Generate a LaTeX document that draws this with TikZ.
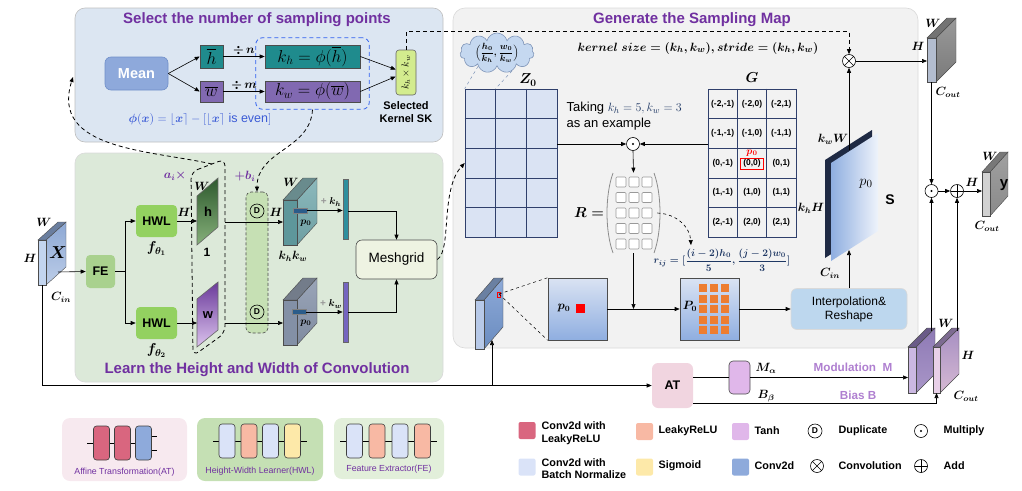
\documentclass[tikz,border=0pt]{standalone}
\usepackage{amsmath}
\usepackage{fontspec}
\setmainfont{Liberation Sans}
\usepackage{graphicx}
\usepackage{tikz}
\usetikzlibrary{arrows.meta}
\usetikzlibrary{positioning}
\usetikzlibrary{calc}
\usetikzlibrary{fit}
\usetikzlibrary{shapes.symbols}

\definecolor{ttl}{HTML}{7030A0}
\definecolor{pnlA}{HTML}{DCE6F2}
\definecolor{pnlB}{HTML}{DCE9D9}
\definecolor{pnlC}{HTML}{F2F2F2}
\definecolor{meanc}{HTML}{8EA9DB}
\definecolor{meand}{HTML}{6F8FC9}
\definecolor{tealc}{HTML}{1F8B8D}
\definecolor{purc}{HTML}{8169B1}
\definecolor{skc}{HTML}{D3EC8E}
\definecolor{phic}{HTML}{3B5BD6}
\definecolor{kbl}{HTML}{2F5FF0}
\definecolor{fec}{HTML}{A9D18E}
\definecolor{hwlc}{HTML}{93D160}
\definecolor{dcol}{HTML}{C6E0B4}
\definecolor{meshc}{HTML}{EEF3E2}
\definecolor{hdark}{HTML}{2E5A2E}
\definecolor{hlight}{HTML}{86B07A}
\definecolor{wdark}{HTML}{6A3A9A}
\definecolor{wlight}{HTML}{DCC3EE}
\definecolor{tbar1}{HTML}{2F8F9E}
\definecolor{tbar2}{HTML}{7565C0}
\definecolor{pbar}{HTML}{2B5C8A}
\definecolor{cldc}{HTML}{C5D8F0}
\definecolor{cldl}{HTML}{7F95B8}
\definecolor{gridf}{HTML}{DAE3F3}
\definecolor{gridc}{HTML}{2F3F6B}
\definecolor{orng}{HTML}{ED7D31}
\definecolor{itpc}{HTML}{BDD7EE}
\definecolor{atc}{HTML}{F1D5E0}
\definecolor{lav}{HTML}{E0B7EA}
\definecolor{cred}{HTML}{D9667F}
\definecolor{bnblue}{HTML}{DAE3F8}
\definecolor{salmon}{HTML}{F8B9A4}
\definecolor{yel}{HTML}{FDE9A9}
\definecolor{cblue}{HTML}{8EAADB}
\definecolor{legAT}{HTML}{F7E9EF}
\definecolor{legHWL}{HTML}{C5E0B4}
\definecolor{legFE}{HTML}{E2EFDA}
\definecolor{modc}{HTML}{AF7FD0}
\definecolor{sdark}{HTML}{1F2A44}
\definecolor{sblue}{HTML}{8FAEE0}
\definecolor{sblight}{HTML}{EEF3FB}
\definecolor{navy}{HTML}{1F3864}
\definecolor{xsA}{HTML}{8DA8D4}
\definecolor{xsB}{HTML}{BCCDE8}
\definecolor{xfr}{HTML}{C3D5EF}
\definecolor{tcA}{HTML}{8CB9BC}
\definecolor{tcB}{HTML}{6E9FA3}
\definecolor{tcF}{HTML}{5E979B}
\definecolor{bcA}{HTML}{9AA5B8}
\definecolor{bcB}{HTML}{7F8BA0}
\definecolor{bcF}{HTML}{8390A6}
\definecolor{ssA}{HTML}{8EAAD8}
\definecolor{ssB}{HTML}{6A8CC0}
\definecolor{ssF}{HTML}{B7C9E8}
\definecolor{gcA}{HTML}{9A9A9A}
\definecolor{gcB}{HTML}{7A7A7A}
\definecolor{gcF}{HTML}{B3BDCF}
\definecolor{ycA}{HTML}{A0A0A0}
\definecolor{ycB}{HTML}{8A8A8A}
\definecolor{ycF}{HTML}{D2D2D2}
\definecolor{p1A}{HTML}{8E7AB5}
\definecolor{p1B}{HTML}{A996C8}
\definecolor{p1F}{HTML}{CBB8E2}
\definecolor{p2A}{HTML}{A68FC2}
\definecolor{p2B}{HTML}{D6B9D3}
\definecolor{p2F}{HTML}{E8D0E8}

% front corner, width, height, depth x, depth y, side top, side bottom, front
\newcommand\tensorslab[8]{%
  \begin{scope}[shift={#1}]
    \shadedraw[draw=black!70,line width=.4pt,top color=#6,bottom color=#7] (#2,0) -- ++(#4,#5) -- ++(0,#3) -- (#2,#3) -- cycle;
    \filldraw[draw=black!70,line width=.4pt,fill=#6!75!black] (0,0) -- (#4,#5) -- ++(#2,0) -- (#2,0) -- cycle;
    \filldraw[draw=black!70,line width=.4pt,fill=#8] (0,0) rectangle (#2,#3);
  \end{scope}}

\tikzset{
  arr/.style={-{Triangle[length=5pt,width=4pt]}},
  dsh/.style={dash pattern=on 4pt off 3pt,line width=.8pt},
  box/.style={draw=black!70,rounded corners=4pt,inner sep=0pt},
  lbl/.style={font=\fontsize{12}{14}\selectfont\boldmath},
  ttlfont/.style={text=ttl,font=\bfseries\fontsize{15}{17}\selectfont},
  op/.style={circle,draw,fill=white,inner sep=0pt,minimum size=13pt},
  mult/.style={op,path picture={\fill[black] (path picture bounding box.center) circle (1.2pt);}},
  conv/.style={op,path picture={\draw (path picture bounding box.north west) -- (path picture bounding box.south east) (path picture bounding box.north east) -- (path picture bounding box.south west);}},
  addop/.style={op,path picture={\draw (path picture bounding box.north) -- (path picture bounding box.south) (path picture bounding box.west) -- (path picture bounding box.east);}},
  dup/.style={circle,draw,inner sep=0pt,minimum size=14pt,font=\bfseries\fontsize{8.5}{9}\selectfont},
  blk/.style={draw=black!75,rounded corners=3pt,minimum width=16pt,minimum height=34pt,inner sep=0pt},
  sw/.style={rounded corners=2pt,minimum size=17pt,inner sep=0pt},
  legt/.style={anchor=west,align=left,font=\bfseries\fontsize{10.8}{12.5}\selectfont},
  wsq/.style={draw=black!40,fill=white,rounded corners=1pt,minimum size=10pt,inner sep=0pt},
}

\begin{document}
\begin{tikzpicture}[x=1pt,y=-1pt,line width=.6pt]
\useasboundingbox (0,0) rectangle (1022,490);

\draw[draw=black!25,fill=pnlA,rounded corners=10pt] (75,8) rectangle (443,142);
\draw[draw=black!15,fill=pnlB,rounded corners=10pt] (75,153) rectangle (443,382);
\draw[draw=black!15,fill=pnlC,rounded corners=12pt] (453,8) rectangle (918,348);
\node[ttlfont] (tA) at (257,20) {Select the number of sampling points};
\node[ttlfont] (tB) at (257,370) {Learn the Height and Width of Convolution};
\node[ttlfont] (tC) at (692,20) {Generate the Sampling Map};
\coordinate (pa) at (73,77);

% select the number of sampling points
\node[box,fill=meanc,draw=meand,text=white,minimum width=63pt,minimum height=33pt,rounded corners=6pt,font=\bfseries\fontsize{14.5}{16}\selectfont] (mean) at (136.5,73.5) {Mean};
\node[box,rounded corners=0pt,fill=tealc,minimum width=23pt,minimum height=23pt,font=\fontsize{17}{19}\selectfont] (hbar) at (211.5,56.5) {$\overline{h}$};
\node[box,rounded corners=0pt,fill=purc,minimum width=23pt,minimum height=21pt,font=\fontsize{17}{19}\selectfont] (wbar) at (211.5,91.5) {$\overline{w}$};
\node[box,rounded corners=0pt,fill=tealc,minimum width=95pt,minimum height=23pt,font=\fontsize{17}{19}\selectfont] (kh) at (312.5,56.5) {$k_h=\phi(\overline{h})$};
\node[box,rounded corners=0pt,fill=purc,minimum width=95pt,minimum height=21pt,font=\fontsize{17}{19}\selectfont] (kw) at (312.5,91.5) {$k_w=\phi(\overline{w})$};
\node[draw=kbl,dsh,rounded corners=7pt,fit=(kh)(kw),inner xsep=9pt,inner ysep=7pt] (kfit) {};
\node[box,fill=skc,draw=black!60,minimum width=20pt,minimum height=45pt,rounded corners=3pt,font=\fontsize{10}{11}\selectfont] (sk) at (406,72.5) {\rotatebox{90}{$k_h\times k_w$}};
\node[below=3pt of sk,align=center,font=\bfseries\fontsize{11}{12.5}\selectfont] (skl) {Selected\\Kernel SK};
\node[text=phic,font=\fontsize{12.5}{14}\selectfont] (phi) at (200,119) {$\boldsymbol{\phi}(\boldsymbol{x})=\lfloor\boldsymbol{x}\rceil-[\lfloor\boldsymbol{x}\rceil\ \mathrm{is\ even}]$};

% learn the height and width
\tensorslab{(38,240)}{8}{45}{20}{-18}{xsA}{xsB}{xfr}
\node[font=\fontsize{18}{20}\selectfont\boldmath] (xl) at (58,253) {$X$};
\node[lbl] (xW) at (44,222) {$W$};
\node[lbl] (xH) at (30,258) {$H$};
\node[lbl] (xC) at (61,297) {$C_{in}$};
\coordinate (xo) at (58,272);
\coordinate (xb) at (42,285);
\node[box,fill=fec,draw=none,minimum width=29pt,minimum height=33pt,font=\bfseries\fontsize{12.5}{14}\selectfont] (fe) at (100.5,271.5) {FE};
\coordinate (sp) at (125,271.5);
\node[box,fill=hwlc,draw=none,minimum width=41pt,minimum height=32pt,font=\bfseries\fontsize{12.5}{14}\selectfont] (hwl1) at (156.5,221) {HWL};
\node[box,fill=hwlc,draw=none,minimum width=41pt,minimum height=32pt,font=\bfseries\fontsize{12.5}{14}\selectfont] (hwl2) at (156.5,323) {HWL};
\node[below=1pt of hwl1,font=\fontsize{14}{16}\selectfont\boldmath] (f1) {$f_{\theta_1}$};
\node[below=1pt of hwl2,font=\fontsize{14}{16}\selectfont\boldmath] (f2) {$f_{\theta_2}$};
\node[lbl] (hH) at (184,212) {$H$};

\shadedraw[draw=black!60,top color=hdark,bottom color=hlight] (197,196) -- (218,178) -- (218,227) -- (197,245) -- cycle;
\shadedraw[draw=black!60,top color=wdark,bottom color=wlight] (197,299) -- (218,282) -- (218,330) -- (197,347) -- cycle;
\node[font=\bfseries\fontsize{13}{14}\selectfont] (ht) at (208,212) {h};
\node[font=\bfseries\fontsize{13}{14}\selectfont] (wt) at (208,315) {w};
\node[lbl] (hW) at (202,186) {$W$};
\node[font=\bfseries\fontsize{12}{14}\selectfont] (h1) at (207,252) {1};
\draw[dsh,rounded corners=7pt] (191,172) -- (225,159) -- (225,333) -- (193,356) -- cycle;
\coordinate (gtop) at (212,164);
\coordinate (g1) at (225,222);
\coordinate (g2) at (225,323);
\node[lbl,text=ttl] (ai) at (175,176) {$a_i\times$};
\node[lbl,text=ttl] (bi) at (245,176) {$+b_i$};

\node[draw=black!70,dash pattern=on 3pt off 2pt,fill=dcol,rounded corners=5pt,minimum width=22pt,minimum height=141pt] (dcl) at (257,262.5) {};
\node[dup] (d1) at (257,211) {D};
\node[dup] (d2) at (257,312) {D};

\tensorslab{(283,200)}{14}{45}{20}{-22}{tcA}{tcB}{tcF}
\tensorslab{(283,300)}{14}{45}{20}{-22}{bcA}{bcB}{bcF}
\coordinate (c1) at (283,222);
\coordinate (c2) at (283,323);
\node[lbl] (cW) at (291,182) {$W$};
\node[lbl] (cH) at (276,212) {$H$};
\node[lbl] (ckk) at (293,256) {$k_hk_w$};
\node[draw=black!50,fill=pbar,minimum width=14pt,minimum height=5pt,inner sep=0pt] (pb1) at (300,210.5) {};
\node[draw=black!50,fill=pbar,minimum width=14pt,minimum height=5pt,inner sep=0pt] (pb2) at (299,312) {};
\node[font=\fontsize{10}{11}\selectfont\boldmath] (pl1) at (306,223) {$p_0$};
\node[font=\fontsize{10}{11}\selectfont\boldmath] (pl2) at (306,323) {$p_0$};
\node[draw=black!60,fill=tbar1,minimum width=5pt,minimum height=60pt,inner sep=0pt] (tb1) at (345.5,209) {};
\node[draw=black!60,fill=tbar2,minimum width=5pt,minimum height=60pt,inner sep=0pt] (tb2) at (345.5,312) {};
\node[font=\fontsize{10}{11}\selectfont\boldmath] (pk1) at (331,202) {{\color{black!40}\textbf{+}} $k_h$};
\node[font=\fontsize{10}{11}\selectfont\boldmath] (pk2) at (331,304) {{\color{black!40}\textbf{+}} $k_w$};
\node[box,fill=meshc,draw=black!70,rounded corners=6pt,minimum width=81pt,minimum height=39pt,font=\fontsize{13.5}{15}\selectfont] (mesh) at (396.5,259.5) {Meshgrid};

% generate the sampling map
\node[font=\fontsize{12.5}{14}\selectfont\boldmath] (ks) at (698,48) {$kernel\ size=(k_h,k_w),stride=(k_h,k_w)$};
\node[cloud,cloud puffs=11,aspect=2.2,draw=cldl,fill=cldc,inner sep=-3pt,minimum width=74pt,minimum height=40pt,font=\fontsize{9}{10}\selectfont\boldmath] (cld) at (497,53) {$\Bigl(\dfrac{h_0}{k_h},\dfrac{w_0}{k_w}\Bigr)$};
\node[draw=gridc,fill=gridf,minimum width=92pt,minimum height=148pt,inner sep=0pt] (z0) at (511,163) {};
\foreach \i in {1,2}
  \draw[gridc] ($(z0.north west)!\i/3!(z0.north east)$) -- ($(z0.south west)!\i/3!(z0.south east)$);
\foreach \j in {1,...,4}
  \draw[gridc] ($(z0.north west)!\j/5!(z0.south west)$) -- ($(z0.north east)!\j/5!(z0.south east)$);
\draw[cldl,dashed,line width=.5pt] (cld.215) -- (z0.north west);
\draw[cldl,dashed,line width=.5pt] (cld.310) -- ($(z0.north west)!1/3!(z0.north east)$);
\node[font=\fontsize{14}{16}\selectfont\boldmath] (z0l) at (528,80) {$Z_0$};
\node[anchor=west,align=left,font=\fontsize{13}{15.5}\selectfont] (take) at (563,116) {Taking \textcolor{navy}{$k_h=5,k_w=3$}\\as an example};

\node[draw=gridc,minimum width=88pt,minimum height=148pt,inner sep=0pt] (g) at (752,163) {};
\foreach \i in {1,2}
  \draw[gridc] ($(g.north west)!\i/3!(g.north east)$) -- ($(g.south west)!\i/3!(g.south east)$);
\foreach \j in {1,...,4}
  \draw[gridc] ($(g.north west)!\j/5!(g.south west)$) -- ($(g.north east)!\j/5!(g.south east)$);
\node[draw=red,minimum width=23pt,minimum height=11pt,inner sep=0pt] (gred) at (752,164) {};
\foreach \r in {-2,...,2}
  \foreach \c in {-1,0,1}
    \node[font=\bfseries\fontsize{8.5}{9}\selectfont] (gl\r\c) at ($(g.center)+(\c*29.33,\r*29.6)$) {(\r,\c)};
\node[text=red,font=\fontsize{10}{11}\selectfont\boldmath] (gp0) at (752,153) {$p_0$};
\node[font=\fontsize{14}{16}\selectfont\boldmath] (gl) at (752,78) {$G$};
\node[mult] (mul) at (633,144) {};

\node[minimum width=47pt,minimum height=80pt,inner sep=0pt] (rm) at (633.5,213) {};
\draw[black!45,line width=.8pt] (613,173) .. controls (605,195) and (605,231) .. (613,253);
\draw[black!45,line width=.8pt] (654,173) .. controls (662,195) and (662,231) .. (654,253);
\foreach \i in {0,1,2}
  \foreach \j in {0,...,4}
    \node[wsq] (r\i\j) at (621+\i*13,182+\j*15.5) {};
\node[font=\fontsize{15}{17}\selectfont\boldmath] (rl) at (589,213) {$R=$};
\node[text=navy,font=\fontsize{10}{11}\selectfont\boldmath] (rij) at (722,260) {$r_{ij}=[\dfrac{(i-2)h_0}{5},\dfrac{(j-2)w_0}{3}]$};

\tensorslab{(475,300)}{9}{49}{19}{-22}{ssA}{ssB}{ssF}
\draw[red,line width=.7pt] (497,292) rectangle (500,297);
\coordinate (rdot) at (499,294);
\coordinate (slb) at (492,340);
\node[draw=black!70,top color=gridf,bottom color=sblue,minimum width=59pt,minimum height=62pt,inner sep=0pt] (p0b) at (577.5,309) {};
\node[font=\fontsize{12}{14}\selectfont\boldmath] (p0l) at (564,308) {$p_0$};
\node[fill=red,minimum size=9pt,inner sep=0pt] (p0r) at (580,308) {};
\node[draw=black!70,top color=gridf,bottom color=sblue,minimum width=59pt,minimum height=62pt,inner sep=0pt] (P0b) at (709.5,309) {};
\node[font=\fontsize{12}{14}\selectfont\boldmath] (P0l) at (690,306) {$P_0$};
\foreach \i in {0,1,2}
  \foreach \j in {0,...,4}
    \fill[orng] (699+\i*11,284+\j*10.5) rectangle ++(8,8);
\node[box,fill=itpc,draw=black!15,rounded corners=6pt,minimum width=116pt,minimum height=41pt,align=center,font=\fontsize{12}{14}\selectfont] (itp) at (849,309) {Interpolation\&\\Reshape};

\fill[sdark] (825,160) -- (872,130) -- (872,228) -- (825,258) -- cycle;
\shade[left color=sblue,right color=sblight] (831,163) -- (878,133) -- (878,231) -- (831,261) -- cycle;
\coordinate (stop) at (849,150);
\coordinate (sbot) at (849,250);
\node[font=\bfseries\fontsize{14}{16}\selectfont] (sl) at (890,200) {S};
\node[font=\fontsize{15}{16}\selectfont] (sp0) at (866,184) {$p_0$};
\node[lbl] (skw) at (833,139) {$k_wW$};
\node[lbl] (skh) at (811,208) {$k_hH$};
\node[lbl] (scin) at (830,273) {$C_{in}$};
\node[conv] (cnv) at (849,61) {};

% outputs
\tensorslab{(927,38)}{9}{44}{20}{-20}{gcA}{gcB}{gcF}
\coordinate (oc1) at (927,61);
\coordinate (oc1b) at (931.5,82);
\node[lbl] (oW) at (933,23) {$W$};
\node[lbl] (oH) at (918,46) {$H$};
\node[lbl] (oC) at (948,92) {$C_{out}$};
\node[mult] (mo) at (931.5,191) {};
\node[addop] (ad) at (957,191) {};
\tensorslab{(982,172)}{8}{44}{18}{-20}{ycA}{ycB}{ycF}
\coordinate (yin) at (982,191);
\node[font=\bfseries\fontsize{15}{16}\selectfont] (yl) at (1004,185) {y};
\node[lbl] (yW) at (990,156) {$W$};
\node[lbl] (yH) at (972,182) {$H$};
\node[lbl] (yC) at (987,226) {$C_{out}$};
\tensorslab{(908,347)}{8}{46}{19}{-19}{p1A}{p1B}{p1F}
\tensorslab{(933,347)}{7}{46}{19}{-19}{p2A}{p2B}{p2F}
\coordinate (ps1t) at (931.5,331);
\coordinate (ps2t) at (957,331);
\coordinate (m1) at (908,377.5);
\coordinate (b2) at (936.5,393);
\node[lbl] (pW) at (946,323) {$W$};
\node[lbl] (pH) at (968,355) {$H$};
\node[lbl] (pC) at (966,396) {$C_{out}$};

\node[box,fill=atc,draw=none,rounded corners=6pt,minimum width=41pt,minimum height=45pt,font=\bfseries\fontsize{12.5}{14}\selectfont] (atn) at (672.5,385.5) {AT};
\node[box,fill=lav,draw=black!70,minimum width=21pt,minimum height=33pt] (ma) at (739.5,377.5) {};
\node[lbl] (mal) at (766,368) {$M_\alpha$};
\node[lbl] (bbl) at (766,396) {$B_\beta$};
\node[text=modc,font=\bfseries\fontsize{11.7}{13}\selectfont] (modl) at (853,367) {Modulation\ \ M};
\node[text=modc,font=\bfseries\fontsize{11.7}{13}\selectfont] (bisl) at (858,395) {Bias B};

% legend
\node[fill=legAT,rounded corners=8pt,minimum width=125pt,minimum height=63pt,inner sep=0pt] (lAT) at (124.5,449.5) {};
\draw (87,443) -- (150,443);
\node[blk,fill=cred] (a1) at (101.5,443) {};
\node[blk,fill=cred] (a2) at (122.5,443) {};
\node[blk,fill=cblue] (a3) at (143.5,443) {};
\draw ([yshift=7pt]a3.east) -- ++(5,0) ([yshift=-7pt]a3.east) -- ++(5,0);
\node[text=ttl,font=\fontsize{8.8}{10}\selectfont] (lATt) at (124.5,472) {Affine Transformation(AT)};
\node[fill=legHWL,rounded corners=8pt,minimum width=126pt,minimum height=63pt,inner sep=0pt] (lHWL) at (260,449.5) {};
\draw (213,441) -- (307,441);
\node[blk,fill=bnblue] (h1b) at (227,441) {};
\node[blk,fill=salmon] (h2b) at (249,441) {};
\node[blk,fill=bnblue] (h3b) at (270.5,441) {};
\node[blk,fill=yel] (h4b) at (292.5,441) {};
\node[text=ttl,font=\fontsize{8.8}{10}\selectfont] (lHWLt) at (260,471) {Height-Width Learner(HWL)};
\node[fill=legFE,rounded corners=8pt,minimum width=110pt,minimum height=61pt,inner sep=0pt] (lFE) at (389,448.5) {};
\draw (340,441) -- (437,441);
\node[blk,fill=bnblue] (f1b) at (354.5,441) {};
\node[blk,fill=salmon] (f2b) at (377,441) {};
\node[blk,fill=bnblue] (f3b) at (400,441) {};
\node[blk,fill=salmon] (f4b) at (422.5,441) {};
\node[text=ttl,font=\fontsize{8.8}{10}\selectfont] (lFEt) at (389,469) {Feature Extractor(FE)};

\node[sw,fill=cred] (s1) at (527,430.5) {};
\node[legt] (s1t) at (538,433) {Conv2d with\\LeakyReLU};
\node[sw,fill=bnblue] (s2) at (527,467) {};
\node[legt] (s2t) at (538,468.5) {Conv2d with\\Batch Normalize};
\node[sw,fill=salmon] (s3) at (644.5,431.5) {};
\node[legt] (s3t) at (655,431) {LeakyReLU};
\node[sw,fill=yel] (s4) at (644.5,467) {};
\node[legt] (s4t) at (655,466) {Sigmoid};
\node[sw,fill=lav] (s5) at (740.5,431.5) {};
\node[legt] (s5t) at (751,431) {Tanh};
\node[sw,fill=cblue] (s6) at (740.5,467) {};
\node[legt] (s6t) at (751,466) {Conv2d};
\node[dup] (s7) at (815,431) {D};
\node[legt] (s7t) at (835,431) {Duplicate};
\node[conv] (s8) at (817,466) {};
\node[legt] (s8t) at (835,466) {Convolution};
\node[mult] (s9) at (921,431) {};
\node[legt] (s9t) at (940,431) {Multiply};
\node[addop] (s10) at (921,466) {};
\node[legt] (s10t) at (940,466) {Add};

% connectors
\draw[arr] (mean.east) -- (hbar.west);
\draw[arr] (mean.east) -- (wbar.west);
\draw[arr] (hbar.east) -- node[above=-2pt,lbl] (dn) {$\div\,n$} (kh.west);
\draw[arr] (wbar.east) -- node[above=-2pt,lbl] (dm) {$\div\,m$} (kw.west);
\draw[arr] (kh.east) -- ([yshift=3pt]sk.west);
\draw[arr] (kw.east) -- ([yshift=-4pt]sk.west);
\draw[dsh,arr] (sk.north) -- ([yshift=18pt]sk.north) -| (cnv.north);
\draw[dsh,arr] (kfit.south) .. controls (310,150) and (257,150) .. (dcl.north);
\draw[dsh,arr] (gtop) .. controls (150,150) and (50,150) .. (pa);
\draw[arr] (xo) -- (fe.west);
\draw (fe.east) -- (sp);
\draw[arr] (sp) |- (hwl1.west);
\draw[arr] (sp) |- (hwl2.west);
\draw[arr] (hwl1.east) -- (hwl1.east -| 197,0);
\draw[arr] (hwl2.east) -- (hwl2.east -| 197,0);
\draw[arr] (g1) -- (c1);
\draw[arr] (g2) -- (c2);
\draw[arr] (pb1.east) -- (tb1.west |- pb1.east);
\draw[arr] (pb2.east) -- (tb2.west |- pb2.east);
\draw[arr] ([yshift=-2pt]tb1.east) -| (mesh.north);
\draw[arr] (tb2.east) -| (mesh.south);
\draw[dsh,arr] (mesh.east) .. controls (452,250) and (440,190) .. (z0.west);
\draw[arr] (z0.east |- mul.west) -- (mul.west);
\draw[arr] (g.west |- mul.east) -- (mul.east);
\draw[arr] (mul.south) -- (rm.north);
\draw[arr] (rm.south) -- (rm.south |- p0b.east);
\draw[dashed,arr] (rm.east) .. controls (678,214) and (690,228) .. ([xshift=-31pt]rij.north);
\draw[dashed,line width=.5pt] (rdot) -- (p0b.north west);
\draw[dashed,line width=.5pt] (rdot) -- (p0b.south west);
\draw[arr] (p0b.east) -- (P0b.west);
\draw[arr] (P0b.east) -- (itp.west);
\draw[arr] (itp.north) -- (sbot);
\draw[arr] (stop) -- (cnv.south);
\draw[arr] (cnv.east) -- (oc1);
\draw[arr] (oc1b) -- (mo.north);
\draw[arr] (mo.east) -- (ad.west);
\draw[arr] (ad.east) -- (yin);
\draw[arr] (ps1t) -- (mo.south);
\draw[arr] (ps2t) -- (ad.south);
\draw[arr] (xb) |- (atn.west);
\draw[arr] (slb |- atn.west) -- (slb);
\draw (atn.east |- ma.west) -- (ma.west);
\draw[arr] (ma.east) -- (m1);
\draw[arr] ([yshift=-17.5pt]atn.east) -| (b2);
\end{tikzpicture}
\end{document}
